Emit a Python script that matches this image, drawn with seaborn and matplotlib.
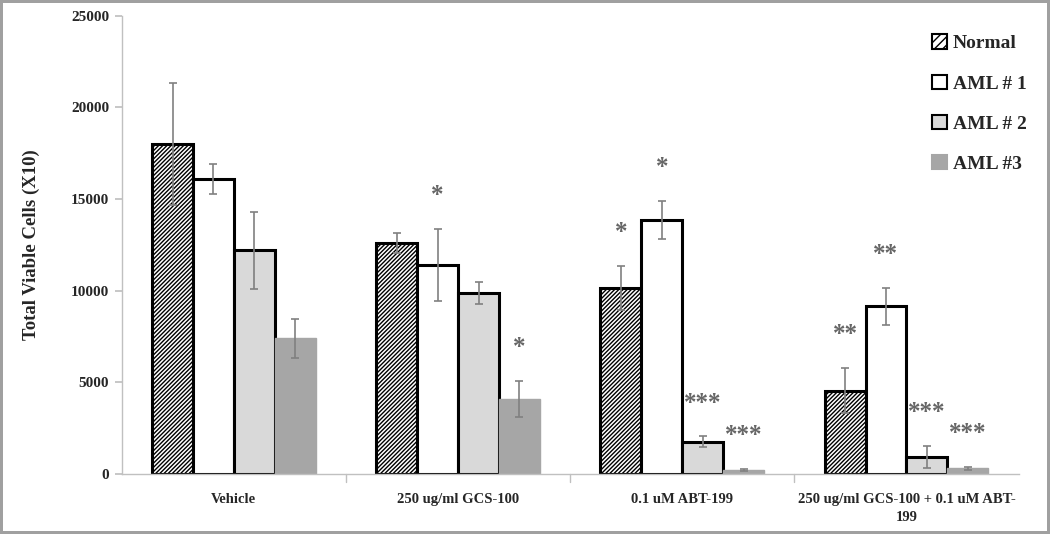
#!/usr/bin/env python3
"""Total viable cells per treatment, normal vs three AML samples."""

import matplotlib
matplotlib.use("Agg")
import matplotlib.pyplot as plt
import numpy as np
import pandas as pd
import seaborn as sns
from matplotlib.patches import Patch

TREATMENTS = [
    "Vehicle",
    "250 ug/ml GCS-100",
    "0.1 uM ABT-199",
    "250 ug/ml GCS-100 + 0.1 uM ABT-\n199",
]
SAMPLES = ["Normal", "AML # 1", "AML # 2", "AML #3"]

# mean values, one list per sample (in treatment order)
NORMAL = [18000, 12600, 10150, 4550]
AML1 = [16100, 11400, 13850, 9150]
AML2 = [12200, 9850, 1750, 950]
AML3 = [7400, 4100, 200, 300]

# error bar half-lengths
NORMAL_ERR = [3350, 550, 1200, 1250]
AML1_ERR = [800, 1950, 1050, 1000]
AML2_ERR = [2100, 600, 300, 600]
AML3_ERR = [1050, 1000, 60, 80]

# significance marks
NORMAL_SIG = ["", "", "*", "**"]
AML1_SIG = ["", "*", "*", "**"]
AML2_SIG = ["", "", "***", "***"]
AML3_SIG = ["", "*", "***", "***"]

FACE = {"Normal": "white", "AML # 1": "white", "AML # 2": "#d9d9d9", "AML #3": "#a6a6a6"}
EDGE = {"Normal": "black", "AML # 1": "black", "AML # 2": "black", "AML #3": "#a6a6a6"}
HATCH = {"Normal": "////////", "AML # 1": "", "AML # 2": "", "AML #3": ""}

sns.set_theme(style="white")
plt.rcParams["font.family"] = ["Liberation Serif", "DejaVu Serif"]
plt.rcParams["font.weight"] = "bold"
plt.rcParams["hatch.linewidth"] = 1.0

rows = []
for sample, vals in zip(SAMPLES, [NORMAL, AML1, AML2, AML3]):
    for treatment, v in zip(TREATMENTS, vals):
        rows.append({"treatment": treatment, "sample": sample, "cells": v})
frame = pd.DataFrame(rows)

errs = [NORMAL_ERR, AML1_ERR, AML2_ERR, AML3_ERR]
sigs = [NORMAL_SIG, AML1_SIG, AML2_SIG, AML3_SIG]

fig = plt.figure(figsize=(10.5, 5.34), dpi=100)
fig.patch.set_edgecolor("#a0a0a0")
fig.patch.set_linewidth(4)
ax = fig.add_axes([0.116, 0.1124, 0.854, 0.858])

sns.barplot(
    data=frame, x="treatment", y="cells", hue="sample",
    order=TREATMENTS, hue_order=SAMPLES, width=0.73, gap=0,
    errorbar=None, legend=False, ax=ax,
)

handles = []
for container, sample, err, sig in zip(ax.containers, SAMPLES, errs, sigs):
    xs, tops = [], []
    for bar in container:
        bar.set_facecolor(FACE[sample])
        bar.set_edgecolor(EDGE[sample])
        bar.set_hatch(HATCH[sample])
        bar.set_linewidth(2.2 if EDGE[sample] == "black" else 1.0)
        xs.append(bar.get_x() + bar.get_width() / 2)
        tops.append(bar.get_height())
    ax.errorbar(xs, tops, yerr=err, fmt="none", ecolor="#808080",
                elinewidth=1.2, capsize=3, capthick=1.2, zorder=5)
    for x, top, e, s in zip(xs, tops, err, sig):
        if s:
            ax.annotate(s, xy=(x, top + e), xytext=(0, 24),
                        textcoords="offset points", ha="center", va="center",
                        fontsize=18, color="#666666", fontweight="bold")
    handles.append(Patch(facecolor=FACE[sample], edgecolor=EDGE[sample],
                         hatch=HATCH[sample][:4],
                         linewidth=1.5, label=sample))

ax.set_ylim(0, 25000)
ax.set_xlim(-0.5, 3.5)
ax.set_yticks(np.arange(0, 25001, 5000))
ax.set_ylabel("Total Viable Cells (X10)", fontsize=13.5, fontweight="bold", labelpad=22)
ax.set_xlabel("")
ax.tick_params(axis="y", labelsize=11, length=5, color="#c0c0c0", left=True, pad=4)
ax.set_xticks(range(len(TREATMENTS)))
ax.set_xticklabels(TREATMENTS, fontsize=10.5, linespacing=1.5)
ax.tick_params(axis="x", length=0, pad=14)
for xb in [0.5, 1.5, 2.5]:
    ax.plot([xb, xb], [0, -0.018], transform=ax.get_xaxis_transform(),
            color="#c0c0c0", lw=1, clip_on=False)

for side in ["top", "right"]:
    ax.spines[side].set_visible(False)
for side in ["left", "bottom"]:
    ax.spines[side].set_color("#c0c0c0")
    ax.spines[side].set_linewidth(1)

ax.legend(handles=handles, loc="upper right", bbox_to_anchor=(1.022, 0.985),
          frameon=False, prop={"size": 14, "weight": "bold"},
          handlelength=0.75, handleheight=0.75, handletextpad=0.3,
          labelspacing=1.15, borderaxespad=0.2)

fig.savefig("out.png", dpi=100)
